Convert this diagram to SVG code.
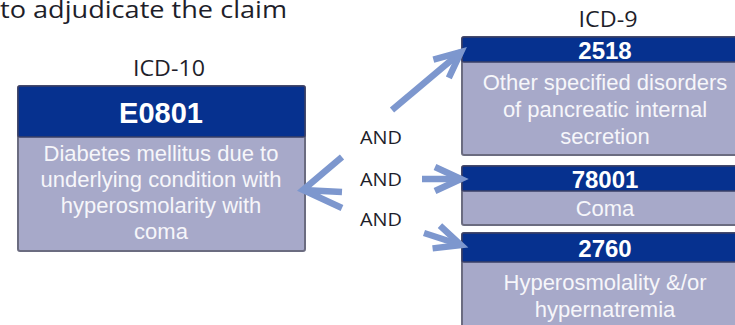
<svg xmlns="http://www.w3.org/2000/svg" width="735" height="325" viewBox="0 0 735 325">
  <style>
    .hdr { fill: #06318F; stroke: #3A3F66; stroke-width: 1.5; }
    .body { fill: #A7A9C9; stroke: #6B6C80; stroke-width: 2; }
    .code { font-family: "Liberation Sans", Arial, sans-serif; font-weight: bold; fill: #FFFFFF; text-anchor: middle; }
    .desc { font-family: "Liberation Sans", Arial, sans-serif; font-size: 22px; fill: #F6F6FA; text-anchor: middle; }
    .lbl { font-family: "Open Sans", "Noto Sans", sans-serif; fill: #1E1E2A; text-anchor: middle; }
    .arrow { fill: none; stroke: #7D97CE; stroke-width: 6.5; stroke-linecap: butt; stroke-linejoin: miter; }
  </style>
  <defs>
    <marker id="head" markerUnits="userSpaceOnUse" markerWidth="40" markerHeight="40" refX="30" refY="20" orient="auto" viewBox="0 0 40 40">
      <path d="M4,8 L30,20 L4,32" fill="none" stroke="#7D97CE" stroke-width="6.5" stroke-linejoin="miter"/>
    </marker>
  </defs>
  <rect width="735" height="325" fill="#FFFFFF"/>

  <text x="0" y="18" class="lbl" style="text-anchor:start" font-size="23" fill="#1A1F4A" textLength="287" lengthAdjust="spacingAndGlyphs">to adjudicate the claim</text>

  <text x="169" y="76" class="lbl" font-size="21" textLength="72" lengthAdjust="spacingAndGlyphs">ICD-10</text>
  <text x="608" y="27" class="lbl" font-size="21" textLength="59" lengthAdjust="spacingAndGlyphs">ICD-9</text>

  <g id="icd10-e0801">
    <rect class="body" x="18" y="86" width="287" height="165" rx="2"/>
    <rect class="hdr" x="18" y="86" width="287" height="51" rx="2"/>
    <text x="161" y="123" class="code" font-size="29">E0801</text>
    <text class="desc" x="161" y="161">Diabetes mellitus due to</text>
    <text class="desc" x="161" y="187">underlying condition with</text>
    <text class="desc" x="161" y="213">hyperosmolarity with</text>
    <text class="desc" x="161" y="239">coma</text>
  </g>

  <g id="icd9-2518">
    <rect class="body" x="462" y="37" width="290" height="118" rx="2"/>
    <rect class="hdr" x="462" y="37" width="290" height="25" rx="2"/>
    <text x="605" y="59" class="code" font-size="24">2518</text>
    <text class="desc" x="605" y="90">Other specified disorders</text>
    <text class="desc" x="605" y="117">of pancreatic internal</text>
    <text class="desc" x="605" y="144">secretion</text>
  </g>

  <g id="icd9-78001">
    <rect class="body" x="462" y="166" width="290" height="59" rx="2"/>
    <rect class="hdr" x="462" y="166" width="290" height="25" rx="2"/>
    <text x="605" y="188" class="code" font-size="24">78001</text>
    <text class="desc" x="605" y="216">Coma</text>
  </g>

  <g id="icd9-2760">
    <rect class="body" x="462" y="233" width="290" height="110" rx="2"/>
    <rect class="hdr" x="462" y="233" width="290" height="29" rx="2"/>
    <text x="605" y="257" class="code" font-size="24">2760</text>
    <text class="desc" x="605" y="290">Hyperosmolality &amp;/or</text>
    <text class="desc" x="605" y="317">hypernatremia</text>
  </g>

  <g id="connectors">
    <path class="arrow" d="M392,110 L461,52" marker-end="url(#head)"/>
    <path class="arrow" d="M422,179 L461,179" marker-end="url(#head)"/>
    <path class="arrow" d="M424,233 L461,245" marker-end="url(#head)"/>
    <path class="arrow" d="M342,157 L303,190 L342,208 M303,190 L342,192"/>
    <text x="381" y="144" class="lbl" font-size="19" textLength="42" lengthAdjust="spacingAndGlyphs">AND</text>
    <text x="381" y="186" class="lbl" font-size="19" textLength="42" lengthAdjust="spacingAndGlyphs">AND</text>
    <text x="381" y="226" class="lbl" font-size="19" textLength="42" lengthAdjust="spacingAndGlyphs">AND</text>
  </g>
</svg>
